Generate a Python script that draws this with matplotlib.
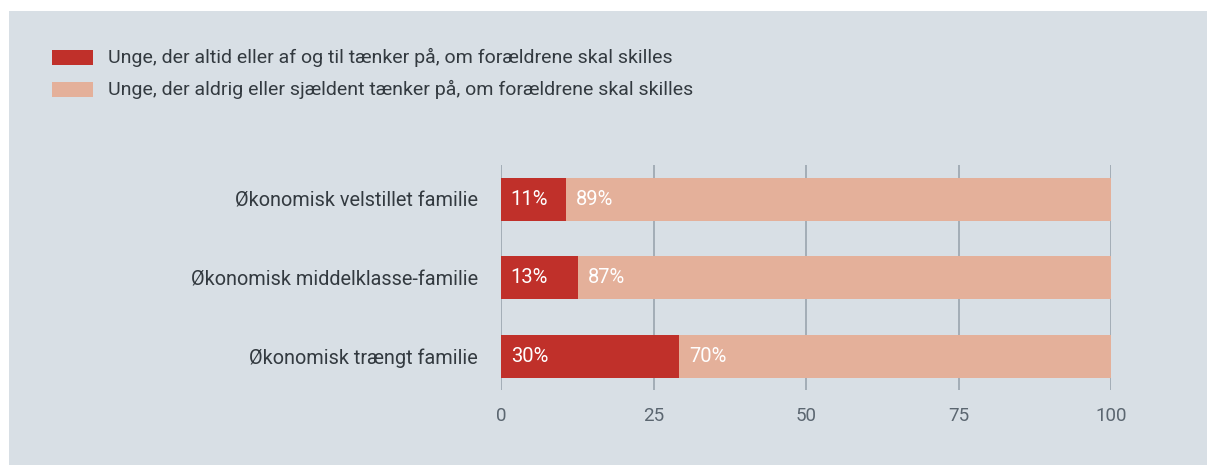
import matplotlib.pyplot as plt
from matplotlib.patches import Rectangle

plt.rcParams['font.family'] = ['Roboto', 'DejaVu Sans']

categories = ["Økonomisk velstillet familie",
              "Økonomisk middelklasse-familie",
              "Økonomisk trængt familie"]
often = [10.7, 12.6, 29.2]
rarely = [89.3, 87.4, 70.8]
often_labels = ["11%", "13%", "30%"]
rarely_labels = ["89%", "87%", "70%"]
series_names = ["Unge, der altid eller af og til tænker på, om forældrene skal skilles",
                "Unge, der aldrig eller sjældent tænker på, om forældrene skal skilles"]
ticks = [0, 25, 50, 75, 100]

red = "#c0302a"
salmon = "#e4b09a"
bg = "#d8dfe5"
text_col = "#333a40"

W, H = 1208, 465
fig = plt.figure(figsize=(W / 100, H / 100), dpi=100)
fig.patch.set_facecolor("white")
fig.patches.append(Rectangle((9 / W, 0), 1 - 10 / W, 1 - 11 / H,
                             transform=fig.transFigure, facecolor=bg,
                             edgecolor="none", zorder=-10))

ax = fig.add_axes([501 / W, 1 - 390 / H, 610 / W, 225 / H])
ax.set_facecolor("none")

y = list(range(len(categories)))
ax.barh(y, often, height=0.55, color=red, zorder=3)
ax.barh(y, rarely, left=often, height=0.55, color=salmon, zorder=3)

for i in y:
    ax.text(1.6, i, often_labels[i], color="white", fontsize=14.5,
            va="center", ha="left", zorder=4)
    ax.text(often[i] + 1.6, i, rarely_labels[i], color="white", fontsize=14.5,
            va="center", ha="left", zorder=4)

ax.set_xlim(0, 100)
ax.set_ylim(2.43, -0.44)
ax.set_xticks(ticks)
ax.set_yticks(y)
ax.set_yticklabels(categories, fontsize=14.3, color=text_col)
ax.tick_params(axis="y", length=0, pad=16.5)
ax.tick_params(axis="x", length=0, pad=12, labelsize=13.5, labelcolor="#5b6670")
ax.grid(axis="x", color="#9aa5ae", linewidth=1.2, zorder=1)
for s in ax.spines.values():
    s.set_visible(False)

# legend drawn manually in figure pixels
for k, (name, col) in enumerate(zip(series_names, [red, salmon])):
    top = 50 + k * 32
    fig.patches.append(Rectangle((52 / W, 1 - (top + 15) / H), 41 / W, 15 / H,
                                 transform=fig.transFigure, facecolor=col,
                                 edgecolor="none"))
    fig.text(108 / W, 1 - (top + 7.5) / H, name, fontsize=14, color=text_col,
             va="center", ha="left")

fig.savefig("out.png", dpi=100, facecolor="white")
